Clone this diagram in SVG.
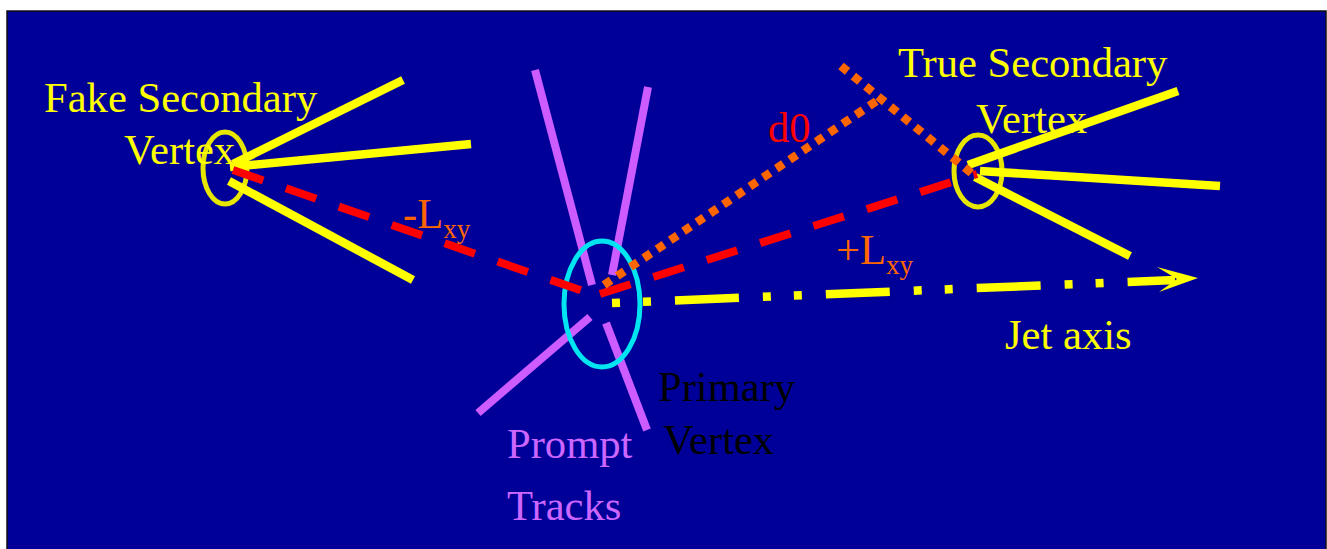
<svg xmlns="http://www.w3.org/2000/svg" width="1327" height="549" viewBox="0 0 1327 549">
<style>
.lbl{font-family:"Liberation Serif","Times New Roman",serif;font-size:42.6px}
.sub{font-family:"Liberation Serif","Times New Roman",serif;font-size:27px}
.ytrk{stroke:#FFFF00;stroke-width:8.5;fill:none}
.ptrk{stroke:#CC5CFF;stroke-width:8;fill:none}
.lxy{stroke:#FF0000;stroke-width:8;stroke-dasharray:32 24;fill:none}
.d0{stroke:#FF6600;stroke-width:8.5;stroke-dasharray:8.5 7.5;fill:none}
</style>
<rect x="7" y="11" width="1319" height="545" fill="#000099" stroke="#111111" stroke-width="1.5"/>

<g id="fake-vertex">
  <ellipse cx="225" cy="168" rx="22" ry="36" fill="none" stroke="#E6E600" stroke-width="5"/>
  <line class="ytrk" x1="233" y1="164" x2="403" y2="80"/>
  <line class="ytrk" x1="230" y1="167" x2="471" y2="144"/>
  <line class="ytrk" x1="229" y1="181" x2="413" y2="280"/>
  <text class="lbl" x="44" y="112" fill="#FFFF00">Fake Secondary</text>
  <text class="lbl" x="124" y="164" fill="#FFFF00">Vertex</text>
</g>

<g id="primary-vertex">
  <line class="ptrk" x1="535" y1="70" x2="592" y2="285"/>
  <line class="ptrk" x1="648" y1="87" x2="612" y2="275"/>
  <line class="ptrk" x1="478" y1="413" x2="590" y2="317"/>
  <line class="ptrk" x1="606" y1="323" x2="647" y2="430"/>
  <ellipse cx="602" cy="304" rx="38" ry="63" fill="none" stroke="#00E5F0" stroke-width="5"/>
  <text class="lbl" x="658" y="401" fill="#000000">Primary</text>
  <text class="lbl" x="663" y="454" fill="#000000">Vertex</text>
  <text class="lbl" x="507" y="458" fill="#CC66FF">Prompt</text>
  <text class="lbl" x="507" y="520" fill="#CC66FF">Tracks</text>
</g>

<g id="true-vertex">
  <ellipse cx="978" cy="171" rx="24" ry="36" fill="none" stroke="#E6E600" stroke-width="5"/>
  <line class="ytrk" x1="968" y1="165" x2="1178" y2="91"/>
  <line class="ytrk" x1="980" y1="171" x2="1220" y2="186"/>
  <line class="ytrk" x1="975" y1="177" x2="1130" y2="256"/>
  <text class="lbl" x="898" y="77" fill="#FFFF00">True Secondary</text>
  <text class="lbl" x="976" y="133" fill="#FFFF00">Vertex</text>
</g>

<g id="connectors">
  <line class="lxy" x1="233" y1="170" x2="600" y2="297"/>
  <line class="lxy" x1="600" y1="294" x2="977" y2="174"/>
  <line class="d0" x1="604" y1="285" x2="878" y2="100"/>
  <line class="d0" x1="841" y1="66" x2="975" y2="176"/>
  <line x1="612" y1="303" x2="1175" y2="280" stroke="#FFFF00" stroke-width="8.5" stroke-dasharray="8 23 8 24 64 24" fill="none"/>
  <polygon points="1157,267 1198,278 1159,292 1177,279" fill="#FFFF00"/>
</g>

<g id="labels">
  <text x="768" y="142" class="lbl" fill="#FF0000">d0</text>
  <text x="403" y="228" class="lbl" fill="#FF6600">-L<tspan class="sub" dy="10">xy</tspan></text>
  <text x="836" y="264" class="lbl" fill="#FF6600">+L<tspan class="sub" dy="10">xy</tspan></text>
  <text x="1005" y="349" class="lbl" fill="#FFFF00">Jet axis</text>
</g>
</svg>
